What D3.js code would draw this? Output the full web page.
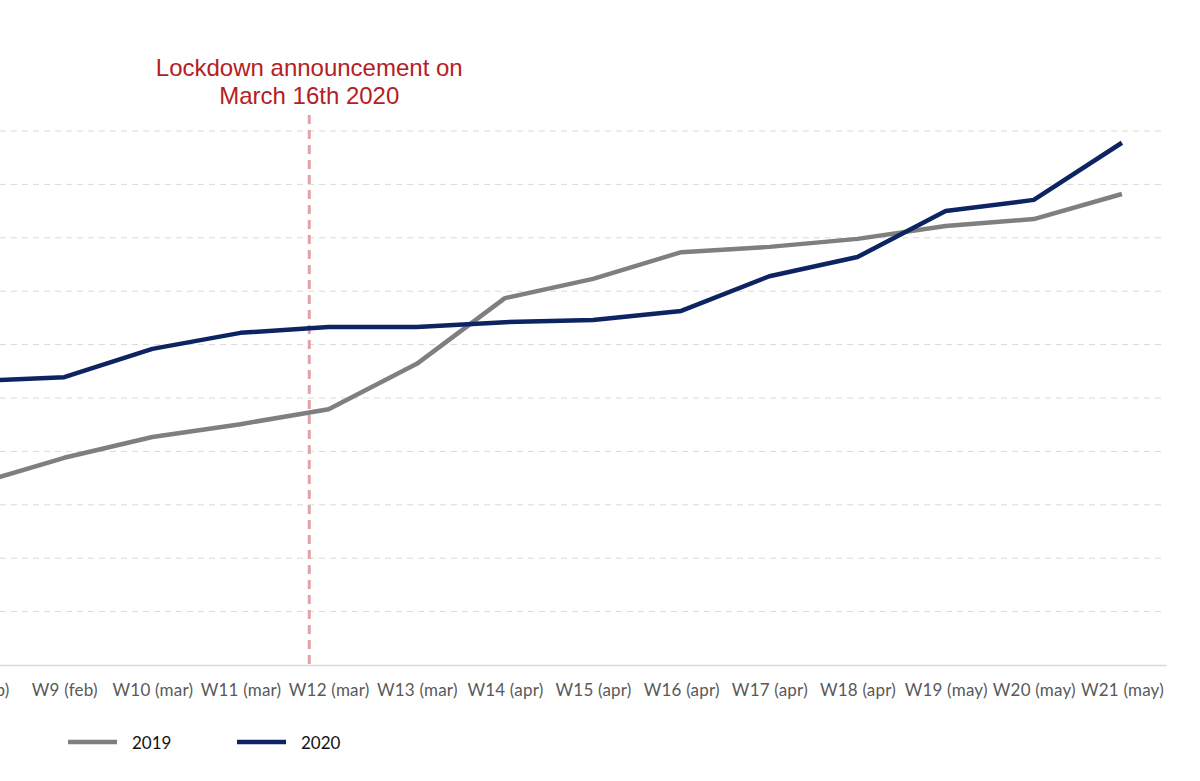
<!DOCTYPE html>
<html>
<head>
<meta charset="utf-8" />
<title>Lockdown weekly comparison</title>
<script src="https://cdn.jsdelivr.net/npm/d3@7"></script>
<style>
  html, body { margin: 0; padding: 0; background: #fff; }
  svg { display: block; }
  .tick-label { font-family: Lato, "Open Sans", sans-serif; font-size: 17px; fill: #595959; letter-spacing: 0.2px; }
  .note { font-family: "Liberation Sans", Arial, sans-serif; font-size: 24px; fill: #b5201e; text-anchor: middle; }
  .legend text { font-family: Lato, "Open Sans", sans-serif; font-size: 17px; fill: #111; }
</style>
</head>
<body>
<svg id="chart" width="1200" height="781"></svg>
<script>
// weeks (first one is partly cut off on the left in the original)
const weeks = ["W8 (feb)", "W9 (feb)", "W10 (mar)", "W11 (mar)", "W12 (mar)", "W13 (mar)", "W14 (apr)",
               "W15 (apr)", "W16 (apr)", "W17 (apr)", "W18 (apr)", "W19 (may)", "W20 (may)", "W21 (may)"];
// values, in gridline units (no y labels visible)
const values2019 = [3.39, 3.88, 4.27, 4.51, 4.79, 5.64, 6.87, 7.23, 7.73, 7.83, 7.98, 8.22, 8.35, 8.82];
const values2020 = [5.32, 5.39, 5.92, 6.22, 6.33, 6.33, 6.42, 6.46, 6.63, 7.28, 7.64, 8.50, 8.71, 9.78];
const gridValues = [1, 2, 3, 4, 5, 6, 7, 8, 9, 10];
const lockdownPos = 3.78; // weeks after W8
const series = [
  { name: "2019", values: values2019, color: "#7f7f7f" },
  { name: "2020", values: values2020, color: "#0c2461" }
];

const svg = d3.select("#chart");

const x = d3.scalePoint().domain(weeks).range([-68, 1166]).padding(0.5);
const y = d3.scaleLinear().domain([0, 10]).range([665, 131]);
const xi = d3.scaleLinear().domain([0, weeks.length - 1]).range([x(weeks[0]), x(weeks[weeks.length - 1])]);

// grid
svg.append("g")
  .selectAll("line")
  .data(gridValues)
  .join("line")
  .attr("x1", 0).attr("x2", 1166)
  .attr("y1", d => y(d)).attr("y2", d => y(d))
  .attr("stroke", "#d9d9d9")
  .attr("stroke-width", 1)
  .attr("stroke-dasharray", "6,5");

// x axis
const xAxis = svg.append("g")
  .attr("transform", `translate(0,${y(0)})`)
  .call(d3.axisBottom(x).tickSize(0).tickPadding(19));
xAxis.select(".domain").attr("stroke", "#d9d9d9").attr("stroke-width", 1.5);
xAxis.selectAll("text").attr("class", "tick-label");

// lockdown marker
svg.append("line")
  .attr("x1", xi(lockdownPos)).attr("x2", xi(lockdownPos))
  .attr("y1", 115).attr("y2", y(0))
  .attr("stroke", "#e3a3a6")
  .attr("stroke-width", 3)
  .attr("stroke-dasharray", "9,6");

svg.append("text").attr("class", "note")
  .attr("x", xi(lockdownPos)).attr("y", 76)
  .text("Lockdown announcement on");
svg.append("text").attr("class", "note")
  .attr("x", xi(lockdownPos)).attr("y", 104)
  .text("March 16th 2020");

// lines
const line = d3.line()
  .x((d, i) => x(weeks[i]))
  .y(d => y(d));

svg.append("g")
  .selectAll("path")
  .data(series)
  .join("path")
  .attr("d", d => line(d.values))
  .attr("fill", "none")
  .attr("stroke", d => d.color)
  .attr("stroke-width", 4.5)
  .attr("stroke-linejoin", "round");

// legend
const legend = svg.append("g").attr("class", "legend")
  .selectAll("g")
  .data(series)
  .join("g")
  .attr("transform", (d, i) => `translate(${68 + i * 169},742)`);
legend.append("line")
  .attr("x1", 0).attr("x2", 49)
  .attr("stroke", d => d.color)
  .attr("stroke-width", 4.5);
legend.append("text")
  .attr("x", 64).attr("y", 7)
  .text(d => d.name);
</script>
</body>
</html>
